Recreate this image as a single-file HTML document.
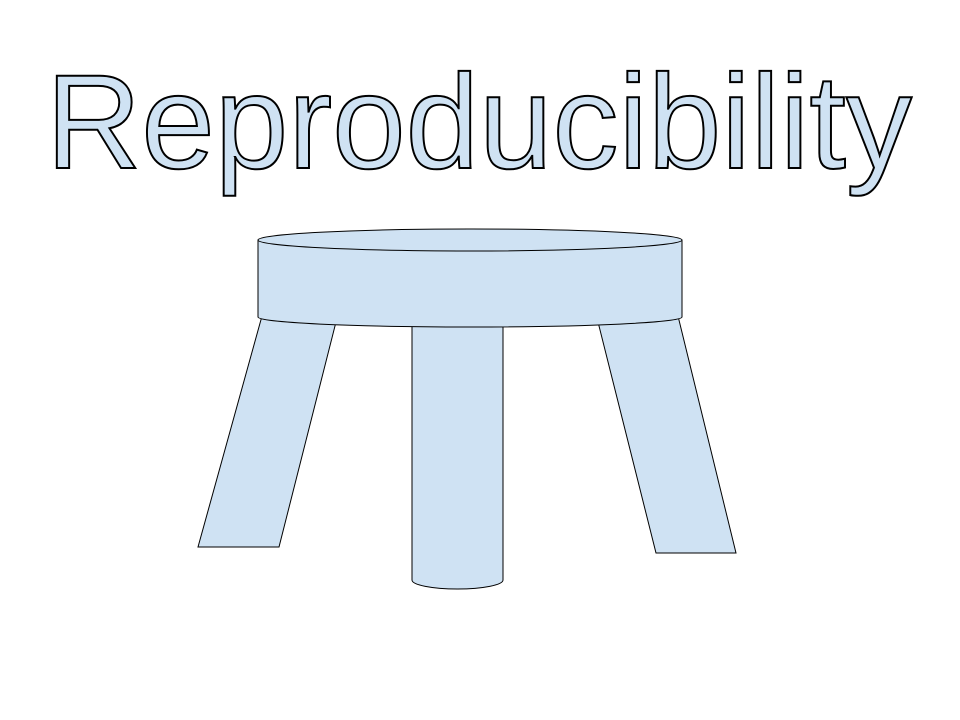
<!DOCTYPE html>
<html>
<head>
<meta charset="utf-8">
<style>
  html,body{margin:0;padding:0;background:#fff;}
  svg{display:block;}
</style>
</head>
<body>
<svg width="960" height="720" viewBox="0 0 960 720">
  <text x="46" y="168" textLength="866" lengthAdjust="spacingAndGlyphs"
        font-family="Liberation Sans, sans-serif" font-size="134"
        fill="#cfe2f3" stroke="#000" stroke-width="2"
       >Reproducibility</text>

  <g fill="#cfe2f3" stroke="#000" stroke-width="1">
    <polygon points="262,316 336,322 279,547 198,547"/>
    <polygon points="598,322 678,316 736,553 656,553"/>
    <g>
      <path d="M412,322 L412,580 A45.5,9 0 0 0 503,580 L503,322 Z"/>
    </g>
    <g>
      <path d="M258,240 L258,317 A212,10 0 0 0 682,317 L682,240 Z"/>
      <ellipse cx="470" cy="240" rx="212" ry="11"/>
    </g>
  </g>
</svg>
</body>
</html>
